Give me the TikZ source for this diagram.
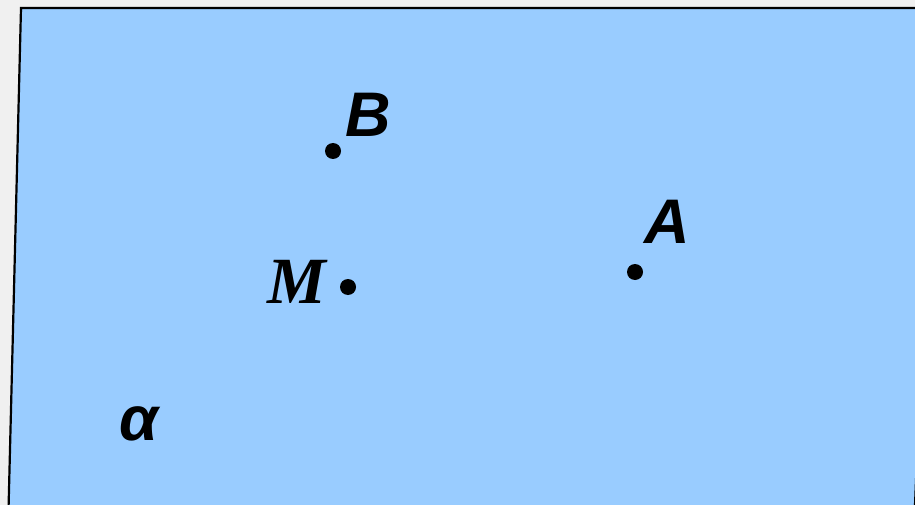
\documentclass[tikz,border=0pt]{standalone}
\usepackage{fontspec}
\setmainfont{Liberation Sans}
\newfontfamily\labsans{Liberation Sans}
\newfontfamily\labserif{Liberation Serif}
\begin{document}
\begin{tikzpicture}[x=1pt,y=-1pt,
  pt/.style={circle,fill=black,inner sep=0pt,minimum size=16pt},
  lab/.style={inner sep=0pt,font=\labsans\fontsize{63}{63}\selectfont\bfseries\itshape},
  labs/.style={inner sep=0pt,font=\labserif\fontsize{66}{66}\selectfont\bfseries\itshape}]
\useasboundingbox (0,0) rectangle (915,505);
\clip (0,0) rectangle (915,505);
\fill[fill={rgb,255:red,240;green,240;blue,240}] (0,0) rectangle (915,505);
\filldraw[fill={rgb,255:red,153;green,204;blue,255},draw=black,line width=2.2pt]
  (21,8) -- (935,8) -- (914,530) -- (8,530) -- cycle;
\node[pt] (B) at (333,151) {};
\node[pt] (M) at (348,287) {};
\node[pt] (A) at (635,272) {};
\node[lab,anchor=base] (lB) at (368,137) {B};
\node[lab,anchor=base] (lA) at (667,243) {A};
\node[labs,anchor=base] (lM) at (297,303) {M};
\node[lab,anchor=base] (la) at (139,440) {α};
\end{tikzpicture}
\end{document}
